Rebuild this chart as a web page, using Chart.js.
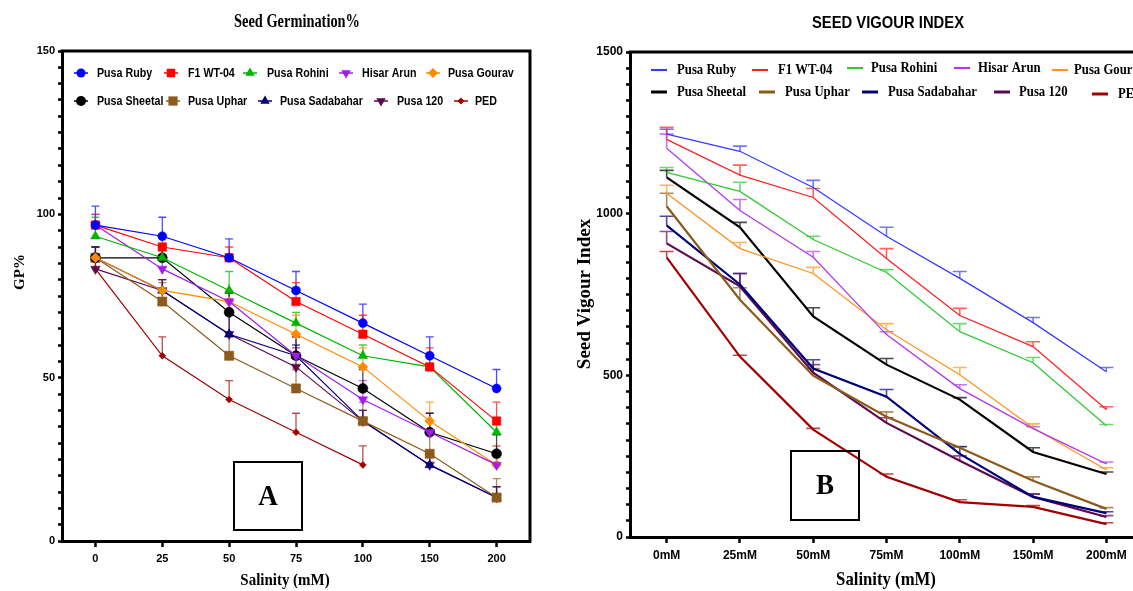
<!DOCTYPE html>
<html><head><meta charset="utf-8">
<script src="https://cdn.jsdelivr.net/npm/chart.js@4.4.1/dist/chart.umd.min.js"></script>
<style>
html,body{margin:0;padding:0;background:#fff;overflow:hidden;width:1133px;height:591px;position:relative;}
#wa{position:absolute;left:0;top:0;width:594px;height:591px;}
#wb{position:absolute;left:575px;top:0;width:626px;height:591px;}
</style></head><body>
<div id="wa"><canvas id="ca"></canvas></div>
<div id="wb"><canvas id="cb"></canvas></div>
<script>
// ---------- data ----------
const seriesNames = ['Pusa Ruby','F1 WT-04','Pusa Rohini','Hisar Arun','Pusa Gourav','Pusa Sheetal','Pusa Uphar','Pusa Sadabahar','Pusa 120','PED'];
const salinityA = ['0','25','50','75','100','150','200'];
const salinityB = ['0mM','25mM','50mM','75mM','100mM','150mM','200mM'];
const yMajorA = [0,50,100,150];
const yMajorB = [0,500,1000,1500];
const yMinorStepA = 5;
const yMinorStepB = 50;

// Panel A: Seed Germination %
const gpPusaRuby      = [96.7, 93.3, 86.7, 76.7, 66.7, 56.7, 46.7];
const gpF1WT04        = [96.7, 90.0, 86.7, 73.3, 63.3, 53.3, 36.7];
const gpPusaRohini    = [93.3, 86.7, 76.7, 66.7, 56.7, 53.3, 33.3];
const gpHisarArun     = [96.7, 83.3, 73.3, 56.7, 43.3, 33.3, 23.3];
const gpPusaGourav    = [86.7, 76.7, 73.3, 63.3, 53.3, 36.7, 23.3];
const gpPusaSheetal   = [86.7, 86.7, 70.0, 56.7, 46.7, 33.3, 26.7];
const gpPusaUphar     = [86.7, 73.3, 56.7, 46.7, 36.7, 26.7, 13.3];
const gpPusaSadabahar = [86.7, 76.7, 63.3, 56.7, 36.7, 23.3, 13.3];
const gpPusa120       = [83.3, 76.7, 63.3, 53.3, 36.7, 23.3, 13.3];
const gpPED           = [83.3, 56.7, 43.3, 33.3, 23.3, null, null];

const gpErrPusaRuby      = [5.8, 5.8, 5.8, 5.8, 5.8, 5.8, 5.8];
const gpErrF1WT04        = [3.3, 3.3, 3.3, 5.8, 5.8, 5.8, 5.8];
const gpErrPusaRohini    = [5.8, 3.3, 5.8, 3.3, 3.3, 3.3, 3.3];
const gpErrHisarArun     = [3.3, 3.3, 3.3, 5.8, 5.8, 5.8, 5.8];
const gpErrPusaGourav    = [3.3, 3.3, 3.3, 5.8, 5.8, 5.8, 5.8];
const gpErrPusaSheetal   = [3.3, 3.3, 5.8, 5.8, 5.8, 5.8, 5.8];
const gpErrPusaUphar     = [3.3, 5.8, 5.8, 5.8, 5.8, 5.8, 5.8];
const gpErrPusaSadabahar = [3.3, 3.3, 5.8, 3.3, 3.3, 3.3, 3.3];
const gpErrPusa120       = [3.3, 3.3, 5.8, 5.8, 3.3, 3.3, 3.3];
const gpErrPED           = [3.3, 5.8, 5.8, 5.8, 5.8, null, null];

// Panel B: Seed Vigour Index
const sviPusaRuby      = [1246, 1193, 1081, 930, 800, 663, 511];
const sviF1WT04        = [1230, 1119, 1050, 861, 685, 589, 394];
const sviPusaRohini    = [1128, 1069, 920, 818, 635, 539, 344];
const sviHisarArun     = [1202, 1010, 865, 626, 459, 335, 226];
const sviPusaGourav    = [1063, 892, 815, 641, 502, 338, 208];
const sviPusaSheetal   = [1112, 958, 682, 533, 425, 263, 195];
const sviPusaUphar     = [1023, 734, 499, 372, 276, 174, 87];
const sviPusaSadabahar = [964, 781, 521, 434, 257, 124, 74];
const sviPusa120       = [908, 775, 508, 353, 236, 124, 62];
const sviPED           = [865, 558, 332, 186, 108, 93, 40];

const sviErrPusaRuby      = [15, 16, 22, 28, 21, 16, 13];
const sviErrF1WT04        = [37, 31, 28, 31, 22, 15, 9];
const sviErrPusaRohini    = [15, 28, 10, 9, 25, 16, 4];
const sviErrHisarArun     = [44, 34, 18, 9, 12, 6, 6];
const sviErrPusaGourav    = [25, 19, 19, 19, 22, 12, 6];
const sviErrPusaSheetal   = [22, 15, 27, 19, 6, 13, 6];
const sviErrPusaUphar     = [40, 37, 22, 15, 4, 12, 4];
const sviErrPusaSadabahar = [28, 34, 27, 22, 22, 9, 4];
const sviErrPusa120       = [37, 40, 25, 16, 15, 9, 4];
const sviErrPED           = [18, 4, 4, 9, 7, 4, 4];

const gpData = [gpPusaRuby,gpF1WT04,gpPusaRohini,gpHisarArun,gpPusaGourav,gpPusaSheetal,gpPusaUphar,gpPusaSadabahar,gpPusa120,gpPED];
const gpErr = [gpErrPusaRuby,gpErrF1WT04,gpErrPusaRohini,gpErrHisarArun,gpErrPusaGourav,gpErrPusaSheetal,gpErrPusaUphar,gpErrPusaSadabahar,gpErrPusa120,gpErrPED];
const sviData = [sviPusaRuby,sviF1WT04,sviPusaRohini,sviHisarArun,sviPusaGourav,sviPusaSheetal,sviPusaUphar,sviPusaSadabahar,sviPusa120,sviPED];
const sviErr = [sviErrPusaRuby,sviErrF1WT04,sviErrPusaRohini,sviErrHisarArun,sviErrPusaGourav,sviErrPusaSheetal,sviErrPusaUphar,sviErrPusaSadabahar,sviErrPusa120,sviErrPED];

// ---------- styles ----------
const colA = ['#0000ff','#ff0000','#00b400','#a21cf0','#ff8a00','#000000','#8c5a1c','#00007a','#5c0a4e','#a00000'];
const colB = ['#3a3aff','#ff2222','#33c833','#b23aea','#ff9420','#000000','#8c5a1c','#00007a','#5c0a4e','#a00000'];
const markA = [['circle',4.5,0],['rect',6,0],['triangle',5.5,0],['triangle',5.5,180],['rectRot',5,0],['circle',5,0],['rect',6.5,0],['triangle',5.5,0],['triangle',5.5,180],['rectRot',3.5,0]];
const lwB = [1.3,1.3,1.3,1.3,1.3,2.2,2.2,2.2,2.2,2.2];
const legPosA = [[81,97,73],[171,188,73],[250,267,73],[346,362,73],[433,448,73],[81,97,101],[173,188,101],[265,280,101],[381,397,101],[461,475,101]];
const legPosB = [[651,677,70],[752,778,70],[847,871,68],[954,978,68],[1052,1074,70],[651,677,92],[759,785,92],[862,888,92],[994,1019,92],[1092,1118,94]];

const SANS = "'Liberation Sans', Arial, sans-serif";
const SERIF = "'Liberation Serif', 'Times New Roman', serif";

function alpha(hex,a){const n=parseInt(hex.slice(1),16);return `rgba(${n>>16},${(n>>8)&255},${n&255},${a})`;}

function drawMarker(ctx, style, x, y, r, rot, color){
  ctx.save(); ctx.fillStyle=color; ctx.beginPath();
  if(style==='circle'){ctx.arc(x,y,r,0,Math.PI*2);}
  else if(style==='rect'){const s=r*Math.SQRT1_2; ctx.rect(x-s,y-s,2*s,2*s);}
  else if(style==='rectRot'){ctx.moveTo(x-r,y);ctx.lineTo(x,y-r);ctx.lineTo(x+r,y);ctx.lineTo(x,y+r);ctx.closePath();}
  else if(style==='triangle'){let a=rot*Math.PI/180;for(let k=0;k<3;k++){const px=x+Math.sin(a)*r,py=y-Math.cos(a)*r;k?ctx.lineTo(px,py):ctx.moveTo(px,py);a+=2*Math.PI/3;}ctx.closePath();}
  ctx.fill(); ctx.restore();
}
function txt(ctx,s,x,y,font,o){o=o||{};ctx.save();ctx.translate(x,y);if(o.rot)ctx.rotate(o.rot);if(o.sx)ctx.scale(o.sx,1);
  ctx.font=font;ctx.fillStyle=o.color||'#000';ctx.textAlign=o.align||'center';ctx.textBaseline='middle';ctx.fillText(s,0,0);ctx.restore();}

const errorBars = {
  id:'errorBars',
  beforeDatasetsDraw(chart,args,opts){
    const ctx=chart.ctx, ys=chart.scales.y;
    chart.data.datasets.forEach((ds,i)=>{
      if(!ds.errors) return;
      const meta=chart.getDatasetMeta(i);
      ctx.save(); ctx.strokeStyle=alpha(ds.borderColor,0.7); ctx.lineWidth=opts.width;
      meta.data.forEach((pt,j)=>{
        const v=ds.data[j], e=ds.errors[j]; if(v==null||e==null) return;
        const y0=ys.getPixelForValue(v), y1=ys.getPixelForValue(v+e);
        ctx.beginPath(); ctx.moveTo(pt.x,y0); ctx.lineTo(pt.x,y1);
        ctx.moveTo(pt.x-opts.cap,y1); ctx.lineTo(pt.x+opts.cap,y1); ctx.stroke();
      });
      ctx.restore();
    });
  }
};

const decor = {
  id:'decor',
  afterDraw(chart,args,o){
    const ctx=chart.ctx, ca=chart.chartArea, ox=o.offX;
    ctx.save(); ctx.strokeStyle='#000'; ctx.lineWidth=3; ctx.beginPath();
    ctx.moveTo(ca.left-1.5,ca.top); ctx.lineTo(ca.right,ca.top); ctx.lineTo(ca.right,ca.bottom+1.5); ctx.stroke(); ctx.restore();
    chart.data.datasets.forEach((ds,i)=>{
      const p=o.legPos[i];
      ctx.save(); ctx.strokeStyle=ds.borderColor; ctx.lineWidth=o.legLine;
      if(o.legMarkers){
        ctx.beginPath(); ctx.moveTo(p[0]-ox-7,p[2]); ctx.lineTo(p[0]-ox+7,p[2]); ctx.stroke();
        drawMarker(ctx,ds.pointStyle,p[0]-ox,p[2],ds.pointRadius,ds.pointRotation,ds.borderColor);
      } else {
        ctx.lineWidth=ds.borderWidth+0.8;
        ctx.beginPath(); ctx.moveTo(p[0]-ox,p[2]); ctx.lineTo(p[0]-ox+16,p[2]); ctx.stroke();
      }
      ctx.restore();
      txt(ctx,ds.label,p[1]-ox,p[2],o.legFont,{align:'left',sx:o.legSx});
    });
    o.texts.forEach(t=>txt(ctx,t.s,t.x-ox,t.y,t.font,{rot:t.rot,sx:t.sx}));
    const b=o.box; ctx.save(); ctx.strokeStyle='#000'; ctx.lineWidth=2; ctx.strokeRect(b.x-ox,b.y,b.w,b.h); ctx.restore();
    txt(ctx,b.s,b.x-ox+b.w/2,b.y+b.h/2+1,b.font,{sx:0.9});
  }
};

function makeChart(id, cats, data, errs, cols, opt){
  const datasets = seriesNames.map((n,i)=>({
    label:n, data:data[i], errors:errs[i], borderColor:cols[i], backgroundColor:cols[i],
    pointBackgroundColor:cols[i], pointBorderColor:cols[i], borderWidth:opt.lw[i],
    pointStyle:opt.mark?opt.mark[i][0]:'circle', pointRadius:opt.mark?opt.mark[i][1]:0,
    pointRotation:opt.mark?opt.mark[i][2]:0, pointBorderWidth:0.5, pointHoverRadius:0,
    tension:0, fill:false, spanGaps:false
  }));
  const tickCb = v => opt.yMajor.includes(v) ? String(v) : '';
  return new Chart(document.getElementById(id), {
    type:'line',
    data:{labels:cats, datasets},
    options:{
      responsive:true, maintainAspectRatio:false, animation:false, events:[],
      layout:{padding:{top:opt.top,right:opt.right,bottom:0,left:0}},
      plugins:{legend:{display:false}, title:{display:false}, tooltip:{enabled:false},
        errorBars:{cap:opt.cap,width:opt.ew}, decor:opt.decor},
      scales:{
        x:{type:'category', offset:true,
          grid:{display:true, drawOnChartArea:false, drawTicks:true, tickLength:6, tickWidth:2.5, tickColor:'#000', offset:false},
          border:{display:true, width:3, color:'#000'},
          ticks:{font:{family:SANS,size:opt.tickSize,weight:'bold'}, color:'#000', padding:opt.xPad, autoSkip:false, maxRotation:0},
          afterFit(s){s.height=opt.xH;}},
        y:{min:0, max:opt.yMax,
          grid:{display:true, drawOnChartArea:false, drawTicks:true, tickLength:4, tickWidth:2.5, tickColor:'#000'},
          border:{display:true, width:3, color:'#000'},
          ticks:{font:{family:SANS,size:opt.tickSize,weight:'bold'}, color:'#000', padding:3, autoSkip:false, callback:tickCb},
          afterBuildTicks(s){const t=[];for(let v=0;v<=opt.yMax;v+=opt.yStep)t.push({value:v});s.ticks=t;},
          afterFit(s){s.width=opt.yW;}}
      }
    },
    plugins:[errorBars, decor]
  });
}

makeChart('ca', salinityA, gpData, gpErr, colA, {
  lw:seriesNames.map(()=>1.2), mark:markA, yMajor:yMajorA, yMax:150, yStep:yMinorStepA,
  top:51, right:64, xH:50, yW:62, xPad:5, cap:4, ew:1.3, tickSize:11,
  decor:{offX:0, legPos:legPosA, legMarkers:true, legLine:1.5, legFont:"bold 13px "+SANS, legSx:0.82,
    texts:[
      {s:'Seed Germination%', x:297, y:22, font:"bold 18px "+SERIF, sx:0.8},
      {s:'Salinity (mM)', x:285, y:581, font:"bold 17px "+SERIF, sx:0.88},
      {s:'GP%', x:20, y:272, font:"bold 15px "+SERIF, rot:-Math.PI/2}
    ],
    box:{x:234, y:462, w:68, h:68, s:'A', font:"bold 30px "+SERIF}}
});

makeChart('cb', salinityB, sviData, sviErr, colB, {
  lw:lwB, mark:null, yMajor:yMajorB, yMax:1500, yStep:yMinorStepB,
  top:52, right:58, xH:54, yW:55, xPad:5, cap:7, ew:1.6, tickSize:12,
  decor:{offX:575, legPos:legPosB, legMarkers:false, legLine:2, legFont:"bold 15px "+SERIF, legSx:0.85,
    texts:[
      {s:'SEED VIGOUR INDEX', x:888, y:23, font:"bold 17px "+SANS, sx:0.87},
      {s:'Salinity (mM)', x:886, y:580, font:"bold 19px "+SERIF, sx:0.88},
      {s:'Seed Vigour Index', x:585, y:294, font:"bold 19px "+SERIF, rot:-Math.PI/2}
    ],
    box:{x:791, y:451, w:68, h:69, s:'B', font:"bold 30px "+SERIF}}
});
</script>
</body></html>
